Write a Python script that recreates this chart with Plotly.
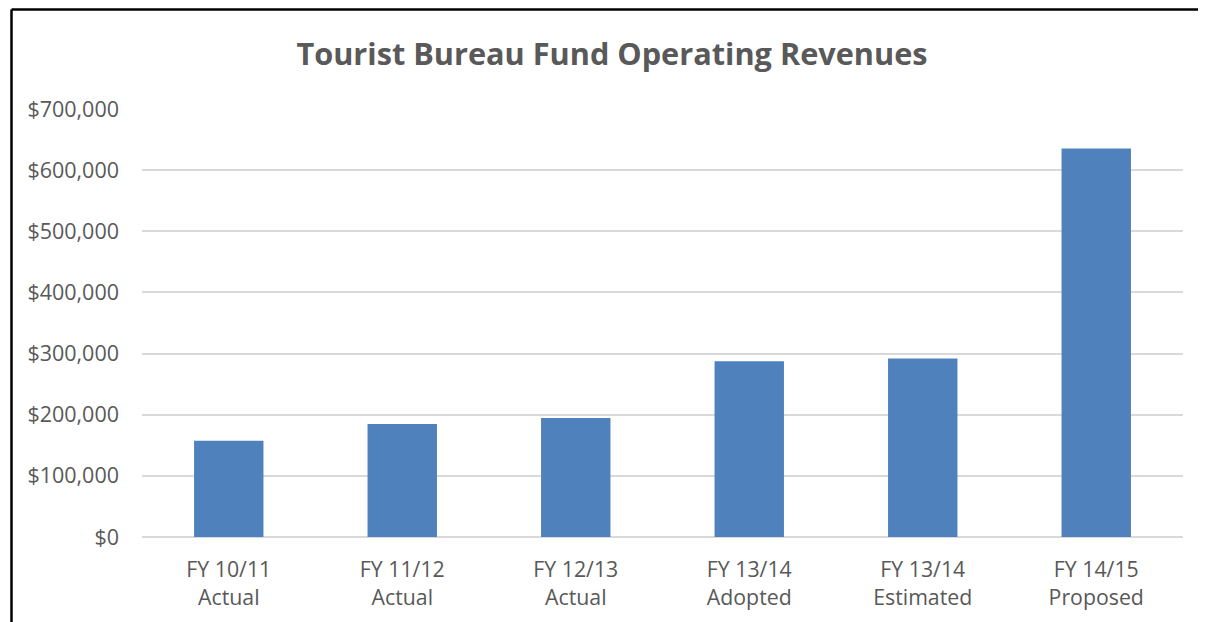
import plotly.graph_objects as go

categories = ['FY 10/11<br>Actual', 'FY 11/12<br>Actual', 'FY 12/13<br>Actual',
              'FY 13/14<br>Adopted', 'FY 13/14<br>Estimated', 'FY 14/15<br>Proposed']
revenues = [157500, 185000, 194500, 287500, 292000, 635500]
y_ticks = [0, 100000, 200000, 300000, 400000, 500000, 600000, 700000]
y_ticktext = ['$0', '$100,000', '$200,000', '$300,000', '$400,000',
              '$500,000', '$600,000', '$700,000']

TEXT_GRAY = '#595959'
FONT = 'Open Sans, sans-serif'
OFF = 8  # page body margin shifts the figure by 8px

fig = go.Figure()

fig.add_trace(go.Bar(
    x=categories,
    y=revenues,
    marker=dict(color='#4F81BD', line=dict(width=0)),
))

plot_l, plot_r, plot_t, plot_b = 142 - OFF, 1183 - OFF, 109 - OFF, 537 - OFF
plot_w, plot_h = plot_r - plot_l, plot_b - plot_t

fig.update_layout(
    title=dict(
        text='<b>Tourist Bureau Fund Operating Revenues</b>',
        x=(612 - OFF) / 1206, xanchor='center',
        y=1 - (54 - OFF) / 622, yanchor='middle',
        font=dict(family=FONT, size=30.7, color=TEXT_GRAY),
    ),
    width=1206,
    height=622,
    margin=dict(l=plot_l, r=1206 - plot_r, t=plot_t, b=622 - plot_b),
    paper_bgcolor='#ffffff',
    plot_bgcolor='#ffffff',
    showlegend=False,
    bargap=0.6,
    font=dict(family=FONT, size=21, color=TEXT_GRAY),
    xaxis=dict(
        showgrid=False,
        showline=False,
        ticks='',
        ticklabelstandoff=18,
        tickfont=dict(size=21.3, color=TEXT_GRAY),
    ),
    yaxis=dict(
        range=[0, 700000],
        tickvals=y_ticks,
        ticktext=y_ticktext,
        showgrid=True,
        gridcolor='#D9D9D9',
        gridwidth=1.5,
        zeroline=True,
        zerolinecolor='#D9D9D9',
        zerolinewidth=1.5,
        ticks='',
        ticklabelstandoff=22,
        tickfont=dict(size=21.5, color=TEXT_GRAY),
    ),
)

# Outer frame: left and top edges only (clipped image of a bordered chart)
left_x = (11.5 - OFF - plot_l) / plot_w
top_y = (plot_b - (9.5 - OFF)) / plot_h
fig.add_shape(type='line', xref='paper', yref='paper',
              x0=left_x, x1=left_x, y0=top_y, y1=-0.3,
              line=dict(color='#000000', width=2.5))
fig.add_shape(type='line', xref='paper', yref='paper',
              x0=left_x, x1=(1205 - OFF - plot_l) / plot_w, y0=top_y, y1=top_y,
              line=dict(color='#000000', width=2.5))

fig.write_html('out.html')
